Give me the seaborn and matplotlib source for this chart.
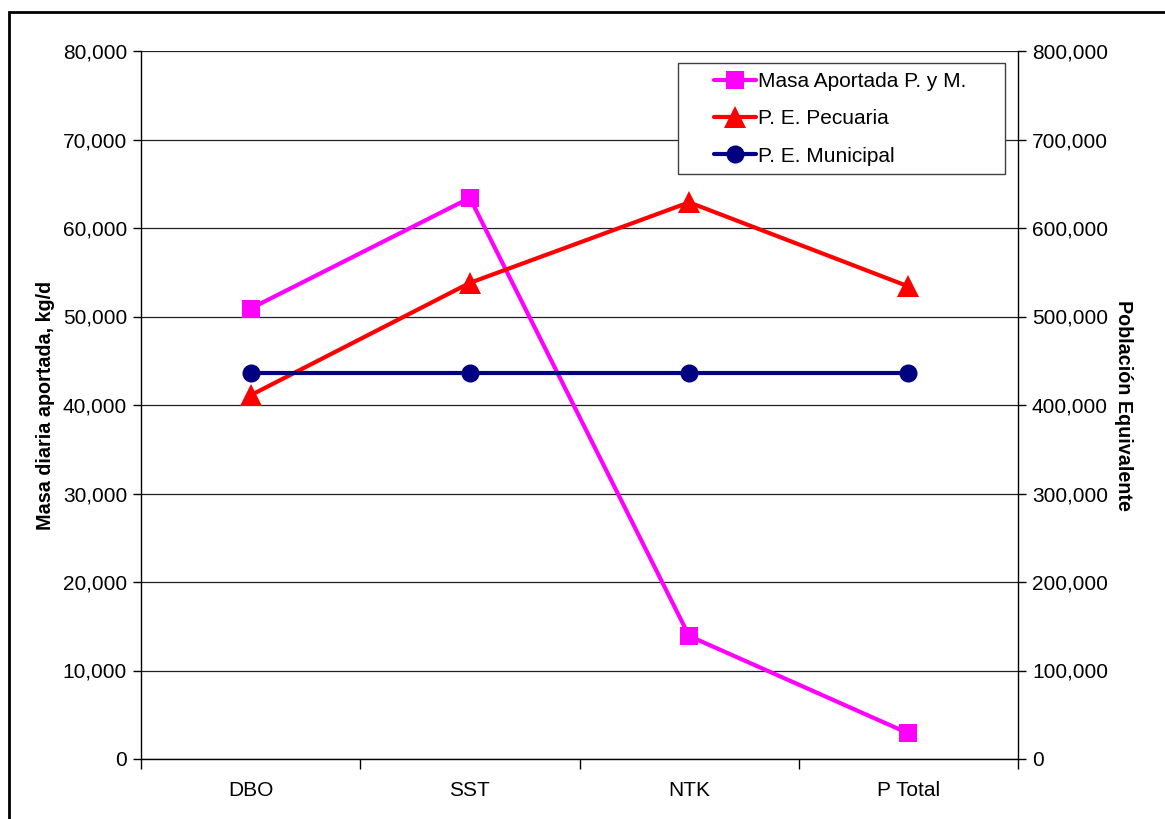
import pandas as pd
import numpy as np
import matplotlib.pyplot as plt
import seaborn as sns
from matplotlib.ticker import FuncFormatter, FixedLocator

# datos
parametros = ['DBO', 'SST', 'NTK', 'P Total']
masa_aportada = [50900, 63400, 13900, 2900]          # kg/d, eje izquierdo
pe_pecuaria = [411000, 538000, 629000, 534000]       # eje derecho
pe_municipal = [436000, 436000, 436000, 436000]      # eje derecho

df = pd.DataFrame({'parametro': parametros,
                   'masa': masa_aportada,
                   'pecuaria': pe_pecuaria,
                   'municipal': pe_municipal})

sns.set_style('white')
plt.rcParams['font.family'] = ['Liberation Sans', 'DejaVu Sans']
plt.rcParams['text.color'] = 'black'
plt.rcParams['axes.labelcolor'] = 'black'
plt.rcParams['xtick.color'] = 'black'
plt.rcParams['ytick.color'] = 'black'

fs = 15

fig = plt.figure(figsize=(11.65, 8.19), dpi=100)
ax = fig.add_axes([141 / 1165, 1 - 759 / 819, 877 / 1165, 708 / 819])
ax2 = ax.twinx()

sns.lineplot(data=df, x='parametro', y='masa', ax=ax, color='#ff00ff', marker='s',
             markersize=12.5, linewidth=3, markeredgewidth=0, label='Masa Aportada P. y M.',
             legend=False, zorder=3)
sns.lineplot(data=df, x='parametro', y='pecuaria', ax=ax2, color='#ff0000', marker='^',
             markersize=16, linewidth=3, markeredgewidth=0, label='P. E. Pecuaria',
             legend=False, zorder=3)
sns.lineplot(data=df, x='parametro', y='municipal', ax=ax2, color='#000080', marker='o',
             markersize=13, linewidth=3, markeredgewidth=0, label='P. E. Municipal',
             legend=False, zorder=3)

fmt = FuncFormatter(lambda v, p: f'{int(v):,}')

ax.set_xlim(-0.5, 3.5)
ax.set_ylim(0, 80000)
ax.set_yticks(np.arange(0, 80001, 10000))
ax.yaxis.set_major_formatter(fmt)
ax2.set_ylim(0, 800000)
ax2.set_yticks(np.arange(0, 800001, 100000))
ax2.yaxis.set_major_formatter(fmt)

# categorias al centro, marcas de division entre ellas
ax.xaxis.set_major_locator(FixedLocator([-0.5, 0.5, 1.5, 2.5, 3.5]))
ax.xaxis.set_minor_locator(FixedLocator([0, 1, 2, 3]))
ax.set_xticklabels([])
ax.set_xticklabels(parametros, minor=True)
ax.tick_params(axis='x', which='major', direction='out', length=7, width=1, color='black', bottom=True)
ax.tick_params(axis='x', which='minor', length=0, pad=16, labelsize=fs)
ax.tick_params(axis='y', direction='out', length=6, width=1, color='black', left=True, labelsize=fs, pad=4)
ax2.tick_params(axis='y', direction='out', length=6, width=1, color='black', right=True, labelsize=fs, pad=4)

ax.grid(axis='y', color='#202020', linewidth=0.9)
ax.grid(axis='x', visible=False)
ax.set_axisbelow(True)

for a in (ax, ax2):
    a.spines['top'].set_visible(False)
    for s in ('left', 'right', 'bottom'):
        a.spines[s].set_color('black')
        a.spines[s].set_linewidth(1)
ax.spines['right'].set_visible(False)
ax2.spines['left'].set_visible(False)
ax2.spines['bottom'].set_visible(False)

ax.set_xlabel('')
ax.set_ylabel('Masa diaria aportada, kg/d', fontsize=14.2, fontweight='bold', labelpad=6)
ax2.set_ylabel('Población Equivalente', fontsize=14.2, fontweight='bold', rotation=270, labelpad=18)

h1, l1 = ax.get_legend_handles_labels()
h2, l2 = ax2.get_legend_handles_labels()
leg = ax2.legend(h1 + h2, l1 + l2, loc='upper left',
                 bbox_to_anchor=((714 - 141) / 877, (759 - 72) / 708),
                 fontsize=fs, frameon=False, borderpad=0, labelspacing=0.88,
                 handlelength=2.0, handletextpad=0.1, borderaxespad=0)

# recuadro de la leyenda
ax2.add_patch(plt.Rectangle(((678 - 141) / 877, (759 - 174) / 708), (1005 - 678) / 877, (174 - 63) / 708,
                            transform=ax2.transAxes, fill=True, facecolor='white',
                            edgecolor='#404040', linewidth=1, zorder=4))
leg.set_zorder(5)

# marco exterior
fig.patches.append(plt.Rectangle((9 / 1165, -0.05), 1.2, 1 - 12 / 819 + 0.05,
                                 transform=fig.transFigure, fill=False,
                                 edgecolor='black', linewidth=2))

fig.savefig('out.png', dpi=100)
